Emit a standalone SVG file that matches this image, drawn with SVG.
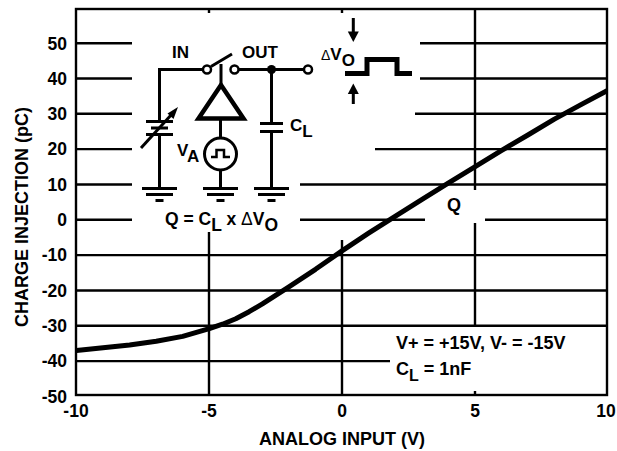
<svg xmlns="http://www.w3.org/2000/svg" width="617" height="451" viewBox="0 0 617 451">
<style>
.t{font-family:"Liberation Sans",Arial,sans-serif;font-weight:bold;fill:#000}
.g{stroke:#000;stroke-width:2.4;fill:none}
.w{stroke:#000;stroke-width:3;fill:none;stroke-linecap:butt}
.gr{stroke:#000;stroke-width:2.8;fill:none}
</style>
<rect width="617" height="451" fill="#fff"/>
<g id="grid">
<path class="g" d="M76,43.2H132M420,43.2H607M76,78.5H132M420,78.5H607M76,113.8H132M415,113.8H607M76,149.1H132M375,149.1H607M76,184.5H132M300,184.5H607M76,219.8H132M300,219.8H425M485,219.8H607M76,255.1H607M76,290.5H607M76,325.8H607M76,361.1H390"/>
<path class="g" d="M209,9V13M209,232V395M342,9V13M342,240V395M475,9V190M475,223V327M475,391V395"/>
<rect class="g" x="76" y="9" width="531" height="386"/>
</g>
<g id="ticks" class="t" font-size="17.5">
<g text-anchor="end">
<text x="67" y="49.5">50</text><text x="67" y="84.8">40</text><text x="67" y="120.1">30</text><text x="67" y="155.4">20</text><text x="67" y="190.8">10</text><text x="67" y="226.1">0</text><text x="67" y="261.4">-10</text><text x="67" y="296.8">-20</text><text x="67" y="332.1">-30</text><text x="67" y="367.4">-40</text><text x="67" y="402.7">-50</text>
</g>
<g text-anchor="middle">
<text x="76" y="417">-10</text><text x="209" y="417">-5</text><text x="342" y="417">0</text><text x="475" y="417">5</text><text x="606" y="417">10</text>
</g>
</g>
<text id="xlabel" class="t" font-size="18" x="342" y="445" text-anchor="middle">ANALOG INPUT (V)</text>
<text id="ylabel" class="t" font-size="18" text-anchor="middle" transform="translate(28,217) rotate(-90)">CHARGE INJECTION (pC)</text>
<g id="curve">
<path d="M76.5,350.5 L103,347.7 L129.6,344.9 L156.2,341.3 L182.7,336.4 L209.3,328.6 L222.5,324.2 L235.8,318.7 L249.1,311.7 L262.4,303.9 L288.9,286.9 L315.5,269.3 L342,250.9 L368.6,233.2 L395.1,216.3 L421.7,199.7 L448.2,183.1 L474.8,166.8 L501.3,150.6 L527.9,135 L554.4,119.1 L581,104.6 L607,90.8" fill="none" stroke="#000" stroke-width="5" stroke-linejoin="round"/>
</g>
<g id="qlabel">
<text class="t" font-size="18" x="454" y="211" text-anchor="middle">Q</text>
</g>
<g id="conditions">
<rect x="390" y="328" width="215" height="62" fill="#fff"/>
<text class="t" font-size="18" x="396" y="349">V+ = +15V, V- = -15V</text>
<text class="t" font-size="18" x="396" y="375">C<tspan font-size="16" dy="6">L</tspan><tspan dy="-6"> = 1nF</tspan></text>
</g>
<g id="connectors">
<path class="w" d="M159.5,189V134M159.5,121V69.5H203M211,66.5L232,54M238.5,69.5H304M221,64V84M220.5,119V138M220.5,170V188M271.5,69.5V123.5M271.5,131.5V188"/>
</g>
<g id="battery">
<path class="w" d="M146,121.5H173M151,128H168M146,134.5H173"/>
<path class="w" stroke-width="2.5" d="M141,148L172,114"/>
<polygon points="178,107 167.5,113.5 173.5,119" fill="#000"/>
</g>
<g id="switch">
<circle cx="207" cy="69.5" r="4" fill="#fff" stroke="#000" stroke-width="2.5"/>
<circle cx="234.5" cy="69.5" r="4" fill="#fff" stroke="#000" stroke-width="2.5"/>
<text class="t" font-size="17" x="172" y="58">IN</text>
<text class="t" font-size="17" x="242" y="58">OUT</text>
</g>
<g id="outnode">
<circle cx="271.5" cy="69.5" r="4.5" fill="#000"/>
<circle cx="308" cy="69.5" r="4" fill="#fff" stroke="#000" stroke-width="2.5"/>
</g>
<g id="buffer">
<polygon points="221,85 198.5,118.5 243.5,118.5" fill="#fff" stroke="#000" stroke-width="4.5"/>
</g>
<g id="source">
<circle cx="220.5" cy="154" r="16" fill="#fff" stroke="#000" stroke-width="3"/>
<path d="M211,157H216.5V150H224V157H230" fill="none" stroke="#000" stroke-width="2.5"/>
<text class="t" font-size="17" x="177" y="156">V<tspan dy="6">A</tspan></text>
</g>
<g id="capacitor">
<path class="w" d="M260,123.5H283M260,131.5H283"/>
<text class="t" font-size="17" x="290" y="131">C<tspan dy="6">L</tspan></text>
</g>
<g id="grounds">
<path class="gr" d="M142,188.5H177M146,194.5H173M155.5,200.5H163.5M203,188.5H238M207,194.5H234M216.5,200.5H224.5M254,188.5H289M258,194.5H285M267.5,200.5H275.5"/>
</g>
<g id="formula">
<text class="t" font-size="17.5" x="165" y="225">Q = C<tspan dy="6">L</tspan><tspan dy="-6"> x </tspan><tspan font-weight="normal">Δ</tspan>V<tspan dy="6">O</tspan></text>
</g>
<g id="deltav">
<path class="w" d="M353.3,18V33M353.3,93V104"/>
<polygon points="347.8,31.5 358.8,31.5 353.3,42" fill="#000"/>
<polygon points="347.8,94 358.8,94 353.3,83.5" fill="#000"/>
<path d="M345,73.5H367V59.5H397V73.5H412" fill="none" stroke="#000" stroke-width="5"/>
<text class="t" font-size="17" x="321" y="60"><tspan font-weight="normal" font-size="14">Δ</tspan>V<tspan dy="6">O</tspan></text>
</g>
</svg>
